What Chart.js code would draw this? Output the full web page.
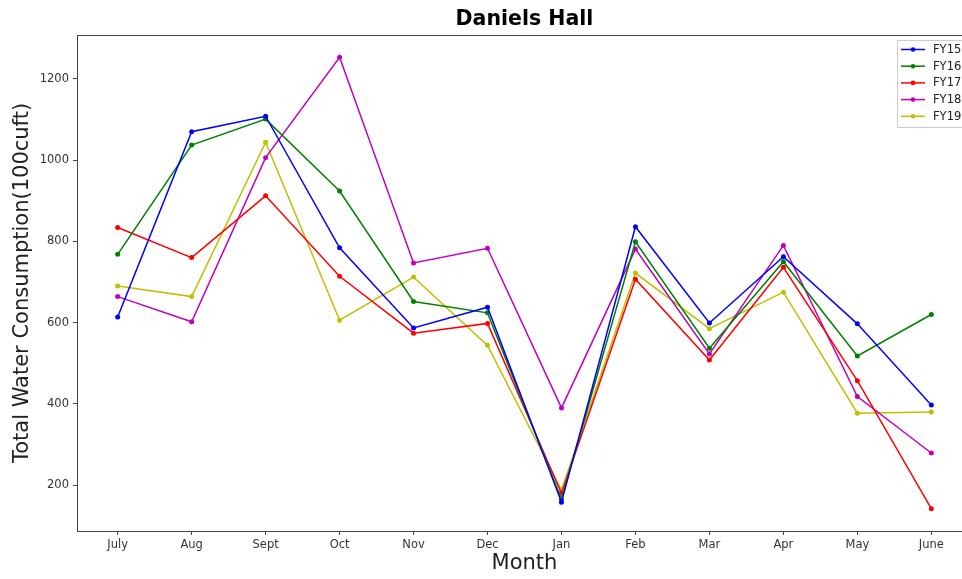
<!DOCTYPE html>
<html>
<head>
<meta charset="utf-8">
<script src="https://cdn.jsdelivr.net/npm/chart.js@4"></script>
<style>
  html, body { margin: 0; padding: 0; background: #fff; overflow: hidden; }
  #wrap { width: 980px; height: 579px; }
</style>
</head>
<body>
<div id="wrap"><canvas id="chart"></canvas></div>
<script>
// data
const months = ['July', 'Aug', 'Sept', 'Oct', 'Nov', 'Dec', 'Jan', 'Feb', 'Mar', 'Apr', 'May', 'June'];
const fy15 = [614, 1070, 1108, 784, 587, 638, 158, 836, 599, 762, 597, 397];
const fy16 = [768, 1037, 1101, 924, 652, 624, 165, 799, 537, 750, 518, 620];
const fy17 = [834, 760, 912, 714, 574, 598, 180, 707, 508, 736, 457, 142];
const fy18 = [664, 602, 1006, 1253, 747, 783, 390, 781, 523, 790, 418, 279];
const fy19 = [690, 664, 1044, 606, 712, 544, 188, 722, 585, 675, 377, 380];
const yTicks = [200, 400, 600, 800, 1000, 1200];

const series = [
  { label: 'FY15', values: fy15, color: '#0000ff' },
  { label: 'FY16', values: fy16, color: '#008000' },
  { label: 'FY17', values: fy17, color: '#ff0000' },
  { label: 'FY18', values: fy18, color: '#bf00bf' },
  { label: 'FY19', values: fy19, color: '#bfbf00' }
];

const FONT = "'DejaVu Sans', sans-serif";

// titles, top spine and legend drawn by hand to match the matplotlib look
const decorations = {
  id: 'decorations',
  afterDraw(chart) {
    const ctx = chart.ctx;
    const a = chart.chartArea;
    ctx.save();
    // top spine
    ctx.strokeStyle = '#444';
    ctx.lineWidth = 1;
    ctx.beginPath();
    ctx.moveTo(a.left, a.top + 0.5);
    ctx.lineTo(a.right, a.top + 0.5);
    ctx.stroke();

    ctx.fillStyle = '#000';
    ctx.textAlign = 'center';
    ctx.textBaseline = 'middle';
    ctx.font = 'bold 20.5px ' + FONT;
    ctx.fillText('Daniels Hall', (a.left + a.right) / 2, 20);

    ctx.fillStyle = '#222';
    ctx.font = '21px ' + FONT;
    ctx.fillText('Month', (a.left + a.right) / 2, 564);
    ctx.translate(23, (a.top + a.bottom) / 2);
    ctx.rotate(-Math.PI / 2);
    ctx.fillText('Total Water Consumption(100cuft)', 0, 0);
    ctx.restore();

    // legend
    ctx.save();
    const lx = 897, ly = 40, lw = 80, lh = 87;
    ctx.fillStyle = 'rgba(255,255,255,0.85)';
    ctx.strokeStyle = '#ccc';
    ctx.lineWidth = 1;
    ctx.beginPath();
    ctx.rect(lx + 0.5, ly + 0.5, lw, lh);
    ctx.fill();
    ctx.stroke();
    ctx.font = '11.5px ' + FONT;
    ctx.textAlign = 'left';
    ctx.textBaseline = 'middle';
    series.forEach((s, i) => {
      const y = ly + 9.5 + i * 16.7;
      ctx.strokeStyle = s.color;
      ctx.lineWidth = 1.5;
      ctx.beginPath();
      ctx.moveTo(901, y);
      ctx.lineTo(925, y);
      ctx.stroke();
      ctx.fillStyle = s.color;
      ctx.beginPath();
      ctx.arc(913, y, 2.3, 0, Math.PI * 2);
      ctx.fill();
      ctx.fillStyle = '#222';
      ctx.fillText(s.label, 933, y + 0.5);
    });
    ctx.restore();
  }
};

new Chart(document.getElementById('chart'), {
  type: 'line',
  data: {
    datasets: series.map(s => ({
      label: s.label,
      data: s.values.map((v, i) => ({ x: i, y: v })),
      borderColor: s.color,
      backgroundColor: s.color,
      borderWidth: 1.5,
      pointRadius: 2.5,
      pointBorderWidth: 0,
      tension: 0
    }))
  },
  options: {
    responsive: true,
    maintainAspectRatio: false,
    animation: false,
    events: [],
    layout: { padding: { top: 35, right: 8, left: 0, bottom: 0 } },
    plugins: {
      legend: { display: false },
      title: { display: false },
      tooltip: { enabled: false }
    },
    scales: {
      x: {
        type: 'linear',
        min: -0.55,
        max: 11.55,
        afterBuildTicks: scale => { scale.ticks = months.map((m, i) => ({ value: i })); },
        afterFit: scale => { scale.height = 48; },
        ticks: {
          callback: v => months[v],
          color: '#333',
          font: { family: FONT, size: 11.5 },
          padding: 3,
          maxRotation: 0,
          autoSkip: false
        },
        grid: { drawOnChartArea: false, drawTicks: true, tickLength: 4, color: '#444' },
        border: { display: true, color: '#444', width: 1 }
      },
      y: {
        min: 87,
        max: 1308,
        afterBuildTicks: scale => { scale.ticks = yTicks.map(v => ({ value: v })); },
        afterFit: scale => { scale.width = 77; },
        ticks: {
          callback: v => String(v),
          color: '#333',
          font: { family: FONT, size: 11.5 },
          padding: 4
        },
        grid: { drawOnChartArea: false, drawTicks: true, tickLength: 4, color: '#444' },
        border: { display: true, color: '#444', width: 1 }
      }
    }
  },
  plugins: [decorations]
});
</script>
</body>
</html>
